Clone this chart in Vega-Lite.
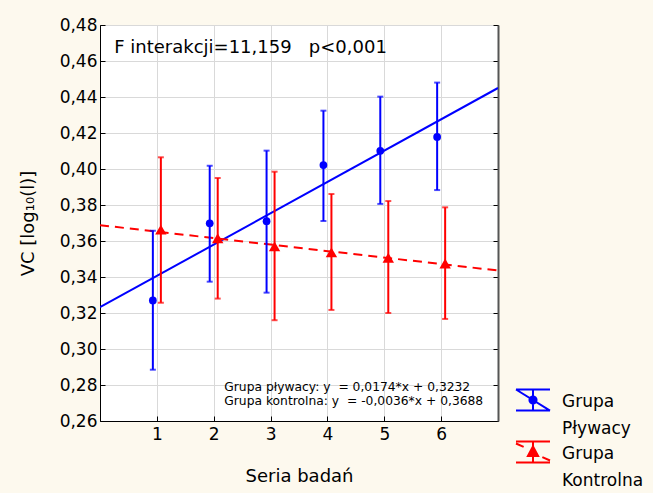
{
  "$schema": "https://vega.github.io/schema/vega-lite/v6.json",
  "width": 398,
  "height": 396,
  "autosize": "none",
  "padding": {"left": 100, "top": 25, "right": 155, "bottom": 72},
  "background": "#FDF9EE",
  "view": {"fill": "#FFFFFF", "stroke": "black", "strokeWidth": 1},
  "config": {
    "font": "DejaVu Sans",
    "style": {"cell": {"fill": "#FFFFFF", "stroke": "black"}, "guide-label": {"lineHeight": 27}},
    "axis": {
      "gridColor": "#d9d9d9", "gridOpacity": 1, "gridWidth": 1,
      "domainColor": "black", "tickColor": "black", "labelColor": "black", "titleColor": "black",
      "labelFont": "DejaVu Sans", "titleFont": "DejaVu Sans",
      "labelFontSize": 17, "titleFontSize": 18, "titleFontWeight": "normal"
    },
    "legend": {
      "title": null, "orient": "none", "legendX": 415, "legendY": 364, "padding": 0,
      "symbolSize": 1156, "symbolStrokeWidth": 2, "labelFontSize": 17, "labelFont": "DejaVu Sans",
      "labelColor": "black", "labelOffset": 11, "labelLimit": 0, "rowPadding": 0,
      "labelBaseline": "alphabetic"
    }
  },
  "datasets": {
    "means": [
      {"seria": 1, "grupa": "Grupa Pływacy", "mean": 0.3270, "lo": 0.2885, "hi": 0.3657},
      {"seria": 2, "grupa": "Grupa Pływacy", "mean": 0.3698, "lo": 0.3374, "hi": 0.4018},
      {"seria": 3, "grupa": "Grupa Pływacy", "mean": 0.3710, "lo": 0.3313, "hi": 0.4102},
      {"seria": 4, "grupa": "Grupa Pływacy", "mean": 0.4022, "lo": 0.3711, "hi": 0.4324},
      {"seria": 5, "grupa": "Grupa Pływacy", "mean": 0.4101, "lo": 0.3806, "hi": 0.4402},
      {"seria": 6, "grupa": "Grupa Pływacy", "mean": 0.4178, "lo": 0.3883, "hi": 0.4480},
      {"seria": 1, "grupa": "Grupa Kontrolna", "mean": 0.3663, "lo": 0.3257, "hi": 0.4065},
      {"seria": 2, "grupa": "Grupa Kontrolna", "mean": 0.3615, "lo": 0.3280, "hi": 0.3950},
      {"seria": 3, "grupa": "Grupa Kontrolna", "mean": 0.3570, "lo": 0.3160, "hi": 0.3985},
      {"seria": 4, "grupa": "Grupa Kontrolna", "mean": 0.3537, "lo": 0.3217, "hi": 0.3861},
      {"seria": 5, "grupa": "Grupa Kontrolna", "mean": 0.3507, "lo": 0.3200, "hi": 0.3822},
      {"seria": 6, "grupa": "Grupa Kontrolna", "mean": 0.3475, "lo": 0.3167, "hi": 0.3787}
    ],
    "lines": [
      {"grupa": "Grupa Pływacy", "x": 0, "y": 0.3232},
      {"grupa": "Grupa Pływacy", "x": 7, "y": 0.4450},
      {"grupa": "Grupa Kontrolna", "x": 0, "y": 0.3688},
      {"grupa": "Grupa Kontrolna", "x": 7, "y": 0.3436}
    ]
  },
  "resolve": {"axis": {"y": "independent"}},
  "layer": [
    {
      "data": {"name": "lines"},
      "transform": [{"filter": "datum.grupa == 'Grupa Pływacy'"}],
      "mark": {"type": "line", "color": "#0000FF", "strokeWidth": 2, "clip": true},
      "encoding": {
        "x": {"field": "x", "type": "quantitative",
          "scale": {"domain": [0, 7], "nice": false, "zero": false},
          "axis": {"title": "Seria badań", "values": [1, 2, 3, 4, 5, 6], "format": "d", "grid": true,
            "tickSize": -5, "labelPadding": 10, "titlePadding": 25}},
        "y": {"field": "y", "type": "quantitative",
          "scale": {"domain": [0.26, 0.48], "nice": false, "zero": false},
          "axis": {"title": "VC [log₁₀(l)]", "values": [0.26, 0.28, 0.3, 0.32, 0.34, 0.36, 0.38, 0.4, 0.42, 0.44, 0.46, 0.48],
            "labelExpr": "replace(format(datum.value, '.2f'), '.', ',')", "grid": true,
            "tickSize": -5, "labelPadding": 8, "titlePadding": 22}}
      }
    },
    {
      "data": {"name": "lines"},
      "transform": [{"filter": "datum.grupa == 'Grupa Kontrolna'"}],
      "mark": {"type": "line", "color": "#FF0000", "strokeWidth": 2, "strokeDash": [9, 6], "clip": true},
      "encoding": {
        "x": {"field": "x", "type": "quantitative"},
        "y": {"field": "y", "type": "quantitative",
          "axis": {"orient": "right", "labels": false, "title": null, "grid": false,
            "values": [0.26, 0.28, 0.3, 0.32, 0.34, 0.36, 0.38, 0.4, 0.42, 0.44, 0.46, 0.48],
            "tickSize": -5, "domainColor": "#555555", "domainWidth": 2}}
      }
    },
    {
      "data": {"name": "means"},
      "transform": [{"filter": "datum.grupa == 'Grupa Pływacy'"}],
      "layer": [
        {"mark": {"type": "rule", "color": "#0000FF", "strokeWidth": 2, "xOffset": -4},
         "encoding": {"x": {"field": "seria", "type": "quantitative"},
           "y": {"field": "lo", "type": "quantitative", "axis": null}, "y2": {"field": "hi"}}},
        {"mark": {"type": "tick", "orient": "horizontal", "color": "#0000FF", "thickness": 2, "size": 6, "xOffset": -4},
         "encoding": {"x": {"field": "seria", "type": "quantitative"},
           "y": {"field": "lo", "type": "quantitative", "axis": null}}},
        {"mark": {"type": "tick", "orient": "horizontal", "color": "#0000FF", "thickness": 2, "size": 6, "xOffset": -4},
         "encoding": {"x": {"field": "seria", "type": "quantitative"},
           "y": {"field": "hi", "type": "quantitative", "axis": null}}},
        {"mark": {"type": "point", "shape": "circle", "filled": true, "color": "#0000FF", "opacity": 1, "size": 60, "xOffset": -4},
         "encoding": {"x": {"field": "seria", "type": "quantitative"},
           "y": {"field": "mean", "type": "quantitative", "axis": null}}}
      ]
    },
    {
      "data": {"name": "means"},
      "transform": [{"filter": "datum.grupa == 'Grupa Kontrolna'"}],
      "layer": [
        {"mark": {"type": "rule", "color": "#FF0000", "strokeWidth": 2, "xOffset": 4},
         "encoding": {"x": {"field": "seria", "type": "quantitative"},
           "y": {"field": "lo", "type": "quantitative", "axis": null}, "y2": {"field": "hi"}}},
        {"mark": {"type": "tick", "orient": "horizontal", "color": "#FF0000", "thickness": 2, "size": 6, "xOffset": 4},
         "encoding": {"x": {"field": "seria", "type": "quantitative"},
           "y": {"field": "lo", "type": "quantitative", "axis": null}}},
        {"mark": {"type": "tick", "orient": "horizontal", "color": "#FF0000", "thickness": 2, "size": 6, "xOffset": 4},
         "encoding": {"x": {"field": "seria", "type": "quantitative"},
           "y": {"field": "hi", "type": "quantitative", "axis": null}}},
        {"mark": {"type": "point", "shape": "triangle-up", "filled": true, "color": "#FF0000", "opacity": 1, "size": 130, "xOffset": 4},
         "encoding": {"x": {"field": "seria", "type": "quantitative"},
           "y": {"field": "mean", "type": "quantitative", "axis": null}}}
      ]
    },
    {
      "data": {"values": [{}]},
      "mark": {"type": "text", "text": "F interakcji=11,159\u00a0\u00a0\u00a0p<0,001", "align": "left", "baseline": "middle", "fontSize": 18, "color": "black"},
      "encoding": {"x": {"datum": 0.25}, "y": {"datum": 0.4672, "axis": null}}
    },
    {
      "data": {"values": [{}]},
      "mark": {"type": "text", "text": "Grupa pływacy: y\u00a0\u00a0= 0,0174*x + 0,3232", "align": "left", "baseline": "alphabetic", "fontSize": 12.3, "color": "black"},
      "encoding": {"x": {"datum": 2.186}, "y": {"datum": 0.2768, "axis": null}}
    },
    {
      "data": {"values": [{}]},
      "mark": {"type": "text", "text": "Grupa kontrolna: y\u00a0\u00a0= -0,0036*x + 0,3688", "align": "left", "baseline": "alphabetic", "fontSize": 12.3, "color": "black"},
      "encoding": {"x": {"datum": 2.186}, "y": {"datum": 0.2689, "axis": null}}
    },
    {
      "data": {"values": [{"grupa": "Grupa Pływacy"}, {"grupa": "Grupa Kontrolna"}]},
      "transform": [{"filter": "false"}],
      "mark": {"type": "point", "filled": true, "strokeWidth": 2, "opacity": 1},
      "encoding": {
        "color": {"field": "grupa", "type": "nominal",
          "scale": {"domain": ["Grupa Pływacy", "Grupa Kontrolna"], "range": ["#0000FF", "#FF0000"]},
          "legend": {"labelExpr": "split(datum.label, ' ')"}},
        "stroke": {"field": "grupa", "type": "nominal",
          "scale": {"domain": ["Grupa Pływacy", "Grupa Kontrolna"], "range": ["#0000FF", "#FF0000"]},
          "legend": {"labelExpr": "split(datum.label, ' ')"}},
        "shape": {"field": "grupa", "type": "nominal",
          "scale": {"domain": ["Grupa Pływacy", "Grupa Kontrolna"],
            "range": ["M-1,-1.03H1M-1,0.21H1M-1,-1.03L1,0.21M0,-1.03V0.21M0.21,-0.41A0.21,0.21,0,1,1,-0.21,-0.41A0.21,0.21,0,1,1,0.21,-0.41Z",
                      "M-1,-1.03H1M-1,0.21H1M0,-1.03V0.21M-1,-0.91L-0.55,-0.71M0.55,-0.11L1,0.09M0,-0.74L0.3,-0.18L-0.3,-0.18Z"]},
          "legend": {"labelExpr": "split(datum.label, ' ')"}}
      }
    }
  ]
}
